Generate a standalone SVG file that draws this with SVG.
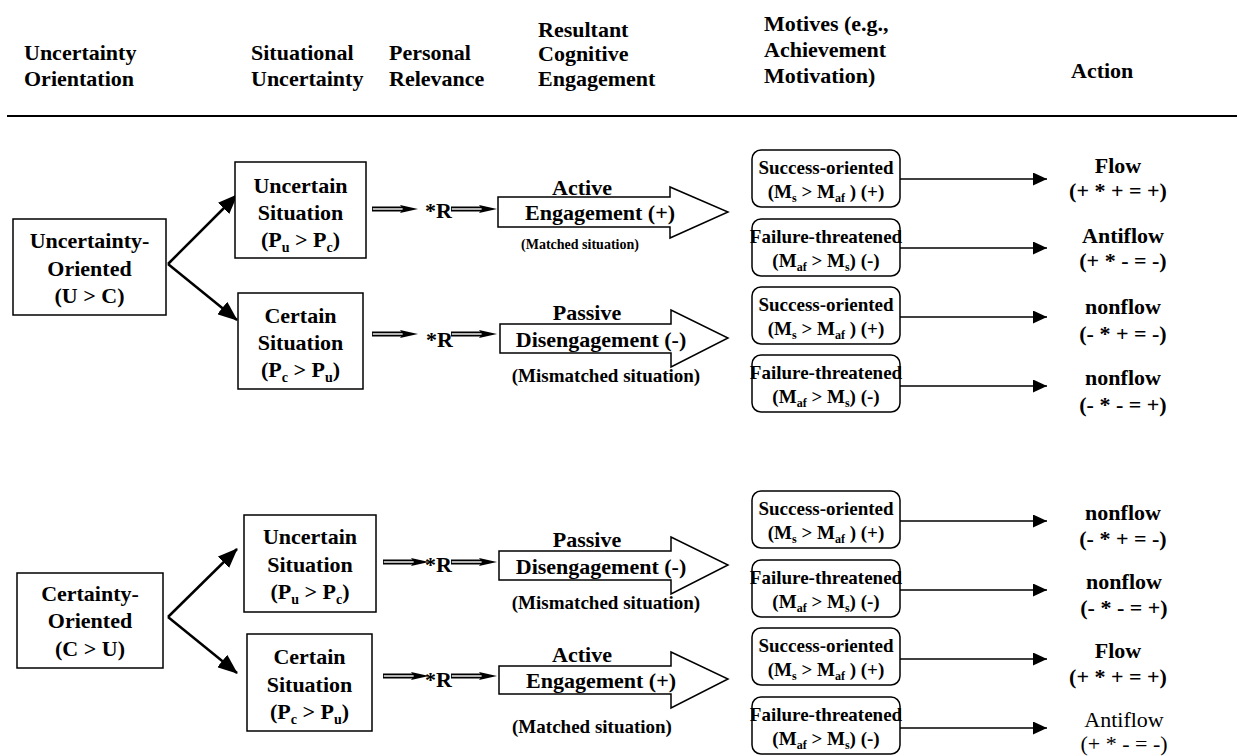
<svg xmlns="http://www.w3.org/2000/svg" width="1237" height="756" viewBox="0 0 1237 756">
<style>
text{font-family:"Liberation Serif","Times New Roman",serif;font-weight:bold;font-size:22px;fill:#000}
.c{text-anchor:middle}
.m{font-size:19px}
.s{font-size:14px}
.ms{font-size:12px}
.sm{font-size:14px}
.reg{font-weight:normal}
.box{fill:#fff;stroke:#000;stroke-width:1.5}
.con{stroke:#000;stroke-width:1.5;fill:none}
.thick{stroke:#000;stroke-width:2.5;fill:none}
.big{fill:#fff;stroke:#000;stroke-width:1.5}
</style>
<defs>
<marker id="ah" markerUnits="userSpaceOnUse" markerWidth="14" markerHeight="13" refX="14" refY="6.5" orient="auto">
<path d="M0,0 L14,6.5 L0,13 z" fill="#000"/>
</marker>
<marker id="ahb" markerUnits="userSpaceOnUse" markerWidth="20" markerHeight="16" refX="19" refY="8" orient="auto">
<path d="M0,0 L20,8 L0,16 z" fill="#000"/>
</marker>
<g id="dbl">
<rect x="0" y="-2.5" width="33" height="5" fill="#000"/>
<rect x="0.8" y="-0.7" width="32" height="1.4" fill="#fff"/>
<path d="M28,-4 L46,0 L28,4 L31,0 z" fill="#000"/>
</g>
</defs>
<rect width="1237" height="756" fill="#fff"/>

<g id="header">
<text x="24" y="60">Uncertainty</text>
<text x="24" y="86">Orientation</text>
<text x="251" y="60">Situational</text>
<text x="251" y="86">Uncertainty</text>
<text x="389" y="60">Personal</text>
<text x="389" y="86">Relevance</text>
<text x="538" y="37">Resultant</text>
<text x="538" y="61">Cognitive</text>
<text x="538" y="86">Engagement</text>
<text x="764" y="31">Motives (e.g.,</text>
<text x="764" y="57">Achievement</text>
<text x="764" y="83">Motivation)</text>
<text x="1071" y="78">Action</text>
<line x1="7" y1="116" x2="1237" y2="116" stroke="#000" stroke-width="2"/>
</g>

<g id="connectors">
<path class="thick" d="M168,264 L237,195" marker-end="url(#ahb)"/>
<path class="thick" d="M168,264 L237,320" marker-end="url(#ahb)"/>
<path class="thick" d="M168,617 L237,549" marker-end="url(#ahb)"/>
<path class="thick" d="M168,617 L237,673" marker-end="url(#ahb)"/>
<use href="#dbl" x="372" y="209"/>
<use href="#dbl" x="451" y="209"/>
<use href="#dbl" x="372" y="334"/>
<use href="#dbl" x="451" y="334"/>
<use href="#dbl" x="383" y="562"/>
<use href="#dbl" x="451" y="562"/>
<use href="#dbl" x="383" y="676"/>
<use href="#dbl" x="451" y="676"/>
<text x="425" y="218">*R</text>
<text x="426" y="347">*R</text>
<text x="425" y="572">*R</text>
<text x="425" y="687">*R</text>
<path class="con" d="M900,179 L1047,179" marker-end="url(#ah)"/>
<path class="con" d="M900,248 L1047,248" marker-end="url(#ah)"/>
<path class="con" d="M900,317 L1047,317" marker-end="url(#ah)"/>
<path class="con" d="M900,386 L1047,386" marker-end="url(#ah)"/>
<path class="con" d="M900,521 L1047,521" marker-end="url(#ah)"/>
<path class="con" d="M900,590 L1047,590" marker-end="url(#ah)"/>
<path class="con" d="M900,659 L1047,659" marker-end="url(#ah)"/>
<path class="con" d="M900,728 L1047,728" marker-end="url(#ah)"/>
</g>

<g id="uncertainty-oriented">
<rect class="box" x="13" y="219" width="153" height="96"/>
<text class="c" x="89.5" y="248">Uncertainty-</text>
<text class="c" x="89.5" y="276">Oriented</text>
<text class="c" x="89.5" y="303">(U &gt; C)</text>
</g>
<g id="certainty-oriented">
<rect class="box" x="17" y="573" width="146" height="95"/>
<text class="c" x="90" y="601">Certainty-</text>
<text class="c" x="90" y="628">Oriented</text>
<text class="c" x="90" y="656">(C &gt; U)</text>
</g>

<g id="uncertain-top">
<rect class="box" x="235" y="162" width="131" height="96"/>
<text class="c" x="300.5" y="193">Uncertain</text>
<text class="c" x="300.5" y="220">Situation</text>
<text class="c" x="300.5" y="247">(P<tspan class="sm" dy="5">u</tspan><tspan dy="-5"> &gt; P</tspan><tspan class="sm" dy="5">c</tspan><tspan dy="-5">)</tspan></text>
</g>
<g id="certain-top">
<rect class="box" x="238" y="293" width="125" height="96"/>
<text class="c" x="300.5" y="323">Certain</text>
<text class="c" x="300.5" y="350">Situation</text>
<text class="c" x="300.5" y="377">(P<tspan class="sm" dy="5">c</tspan><tspan dy="-5"> &gt; P</tspan><tspan class="sm" dy="5">u</tspan><tspan dy="-5">)</tspan></text>
</g>
<g id="uncertain-bottom">
<rect class="box" x="244" y="515" width="132" height="97"/>
<text class="c" x="310" y="544">Uncertain</text>
<text class="c" x="310" y="572">Situation</text>
<text class="c" x="310" y="599">(P<tspan class="sm" dy="5">u</tspan><tspan dy="-5"> &gt; P</tspan><tspan class="sm" dy="5">c</tspan><tspan dy="-5">)</tspan></text>
</g>
<g id="certain-bottom">
<rect class="box" x="247" y="634" width="125" height="97"/>
<text class="c" x="309.5" y="664">Certain</text>
<text class="c" x="309.5" y="692">Situation</text>
<text class="c" x="309.5" y="719">(P<tspan class="sm" dy="5">c</tspan><tspan dy="-5"> &gt; P</tspan><tspan class="sm" dy="5">u</tspan><tspan dy="-5">)</tspan></text>
</g>

<g id="engage-top">
<path class="big" d="M498,197 L670,197 L670,187 L728,212 L670,238 L670,227 L498,227 Z"/>
<text class="c" x="582" y="195">Active</text>
<text class="c" x="600" y="220">Engagement (+)</text>
<text class="c s" x="580" y="249">(Matched situation)</text>
</g>
<g id="disengage-top">
<path class="big" d="M500,324 L671,324 L671,310 L728,338 L671,367 L671,353 L500,353 Z"/>
<text class="c" x="587" y="320">Passive</text>
<text class="c" x="601" y="347">Disengagement (-)</text>
<text class="c m" x="606" y="382">(Mismatched situation)</text>
</g>
<g id="disengage-bottom">
<path class="big" d="M499,551 L671,551 L671,537 L728,565 L671,594 L671,580 L499,580 Z"/>
<text class="c" x="587" y="547">Passive</text>
<text class="c" x="601" y="574">Disengagement (-)</text>
<text class="c m" x="606" y="609">(Mismatched situation)</text>
</g>
<g id="engage-bottom">
<path class="big" d="M499,666 L671,666 L671,652 L728,679 L671,708 L671,694 L499,694 Z"/>
<text class="c" x="582" y="662">Active</text>
<text class="c" x="601" y="688">Engagement (+)</text>
<text class="c m" x="592" y="733">(Matched situation)</text>
</g>

<g id="motive-a">
<rect class="box" x="752" y="150" width="148" height="57" rx="9"/>
<text class="c m" x="826" y="174">Success-oriented</text>
<text class="c m" x="826" y="198">(M<tspan class="ms" dy="4">s</tspan><tspan dy="-4"> &gt; M</tspan><tspan class="ms" dy="4">af</tspan><tspan dy="-4"> ) (+)</tspan></text>
</g>
<g id="motive-b">
<rect class="box" x="752" y="219" width="148" height="57" rx="9"/>
<text class="c m" x="826" y="243">Failure-threatened</text>
<text class="c m" x="826" y="267">(M<tspan class="ms" dy="4">af</tspan><tspan dy="-4"> &gt; M</tspan><tspan class="ms" dy="4">s</tspan><tspan dy="-4">) (-)</tspan></text>
</g>
<g id="motive-c">
<rect class="box" x="752" y="287" width="148" height="57" rx="9"/>
<text class="c m" x="826" y="311">Success-oriented</text>
<text class="c m" x="826" y="335">(M<tspan class="ms" dy="4">s</tspan><tspan dy="-4"> &gt; M</tspan><tspan class="ms" dy="4">af</tspan><tspan dy="-4"> ) (+)</tspan></text>
</g>
<g id="motive-d">
<rect class="box" x="752" y="355" width="148" height="57" rx="9"/>
<text class="c m" x="826" y="379">Failure-threatened</text>
<text class="c m" x="826" y="403">(M<tspan class="ms" dy="4">af</tspan><tspan dy="-4"> &gt; M</tspan><tspan class="ms" dy="4">s</tspan><tspan dy="-4">) (-)</tspan></text>
</g>
<g id="motive-e">
<rect class="box" x="752" y="491" width="148" height="57" rx="9"/>
<text class="c m" x="826" y="515">Success-oriented</text>
<text class="c m" x="826" y="539">(M<tspan class="ms" dy="4">s</tspan><tspan dy="-4"> &gt; M</tspan><tspan class="ms" dy="4">af</tspan><tspan dy="-4"> ) (+)</tspan></text>
</g>
<g id="motive-f">
<rect class="box" x="752" y="560" width="148" height="57" rx="9"/>
<text class="c m" x="826" y="584">Failure-threatened</text>
<text class="c m" x="826" y="608">(M<tspan class="ms" dy="4">af</tspan><tspan dy="-4"> &gt; M</tspan><tspan class="ms" dy="4">s</tspan><tspan dy="-4">) (-)</tspan></text>
</g>
<g id="motive-g">
<rect class="box" x="752" y="628" width="148" height="57" rx="9"/>
<text class="c m" x="826" y="652">Success-oriented</text>
<text class="c m" x="826" y="676">(M<tspan class="ms" dy="4">s</tspan><tspan dy="-4"> &gt; M</tspan><tspan class="ms" dy="4">af</tspan><tspan dy="-4"> ) (+)</tspan></text>
</g>
<g id="motive-h">
<rect class="box" x="752" y="697" width="148" height="57" rx="9"/>
<text class="c m" x="826" y="721">Failure-threatened</text>
<text class="c m" x="826" y="745">(M<tspan class="ms" dy="4">af</tspan><tspan dy="-4"> &gt; M</tspan><tspan class="ms" dy="4">s</tspan><tspan dy="-4">) (-)</tspan></text>
</g>

<g id="action-a"><text class="c" x="1118" y="173">Flow</text><text class="c" x="1118" y="198">(+ * + = +)</text></g>
<g id="action-b"><text class="c" x="1123" y="243">Antiflow</text><text class="c" x="1123" y="268">(+ * - = -)</text></g>
<g id="action-c"><text class="c" x="1123" y="314">nonflow</text><text class="c" x="1123" y="341">(- * + = -)</text></g>
<g id="action-d"><text class="c" x="1123" y="385">nonflow</text><text class="c" x="1123" y="412">(- * - = +)</text></g>
<g id="action-e"><text class="c" x="1123" y="520">nonflow</text><text class="c" x="1123" y="546">(- * + = -)</text></g>
<g id="action-f"><text class="c" x="1124" y="589">nonflow</text><text class="c" x="1124" y="615">(- * - = +)</text></g>
<g id="action-g"><text class="c" x="1118" y="658">Flow</text><text class="c" x="1118" y="684">(+ * + = +)</text></g>
<g id="action-h"><text class="c reg" x="1124" y="727">Antiflow</text><text class="c reg" x="1124" y="751">(+ * - = -)</text></g>
</svg>
